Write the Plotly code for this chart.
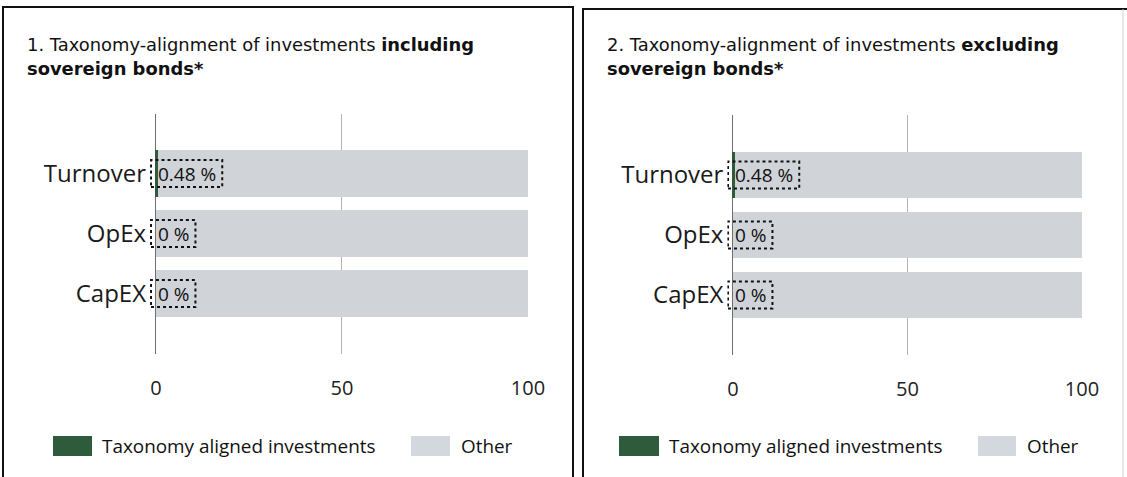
import plotly.graph_objects as go

# ---------------- data ----------------
categories = ["Turnover", "OpEx", "CapEX"]
aligned_incl = [0.48, 0, 0]
other_incl = [99.52, 100, 100]
aligned_excl = [0.48, 0, 0]
other_excl = [99.52, 100, 100]
x_ticks = [0, 50, 100]
legend_names = ["Taxonomy aligned investments", "Other"]
title_regular = ["1. Taxonomy-alignment of investments ", "2. Taxonomy-alignment of investments "]
title_bold = ["including", "excluding"]
title_line2 = ["sovereign bonds*", "sovereign bonds*"]

# ---------------- style ----------------
W, H = 1127, 477
GREEN = "#2e5b3b"
GREY = "#d0d3d8"
LEG_GREY = "#d3d8df"
FONT = "Open Sans"
TITLE_FONT = "DejaVu Sans"
XMIN = -1.6  # small room left of zero so the dotted label boxes are not clipped


def px(x):
    return x / W


def py(y):
    return 1 - y / H


panels = [
    dict(aligned=aligned_incl, other=other_incl, x0=156, x100=528, ytop=113.5, ybot=353.5,
         box=(3, 573, 7), title_x=27, leg=(53, 92, 100, 411, 450, 459)),
    dict(aligned=aligned_excl, other=other_excl, x0=733, x100=1082, ytop=115, ybot=355,
         box=(583, 1140, 9), title_x=607, leg=(619, 659, 667, 978, 1016, 1025)),
]

fig = go.Figure()
layout = dict(
    template="none",
    width=W, height=H, autosize=False, margin=dict(l=0, r=0, t=0, b=0, pad=0, autoexpand=False),
    paper_bgcolor="white", plot_bgcolor="rgba(0,0,0,0)",
    barmode="stack", showlegend=False, font=dict(family=FONT, color="#1a1a1a"),
)
shapes = []
annotations = []

char_em = {"0": 0.572, "1": 0.572, "2": 0.572, "3": 0.572, "4": 0.572, "5": 0.572,
           "6": 0.572, "7": 0.572, "8": 0.572, "9": 0.572, ".": 0.267, " ": 0.26, "%": 0.823}
LABEL_SIZE = 19

for i, p in enumerate(panels):
    sfx = "" if i == 0 else str(i + 1)
    xa, ya = "x" + sfx, "y" + sfx
    fig.add_trace(go.Bar(x=p["aligned"], y=categories, orientation="h", name=legend_names[0],
                         marker=dict(color=GREEN, line=dict(width=0)), width=0.78,
                         xaxis=xa, yaxis=ya, hoverinfo="skip"))
    fig.add_trace(go.Bar(x=p["other"], y=categories, orientation="h", name=legend_names[1],
                         marker=dict(color=GREY, line=dict(width=0)), width=0.78,
                         xaxis=xa, yaxis=ya, hoverinfo="skip"))
    ppu = (p["x100"] - p["x0"]) / 100.0
    layout["xaxis" + sfx] = dict(
        domain=[px(p["x0"] + XMIN * ppu), px(p["x100"])], range=[XMIN, 100], anchor=ya,
        tickvals=x_ticks, showgrid=True, gridcolor="#b4b4b4", gridwidth=1,
        zeroline=True, zerolinecolor="#6e6e6e", zerolinewidth=1, showline=False,
        ticks="", tickfont=dict(size=20, color="#222"), ticklabelstandoff=20,
        automargin=False, fixedrange=True,
    )
    layout["yaxis" + sfx] = dict(
        domain=[py(p["ybot"]), py(p["ytop"])], type="category",
        categoryorder="array", categoryarray=categories, range=[3, -1],
        anchor=xa, showgrid=False, zeroline=False, showline=False, ticks="",
        tickfont=dict(size=24, color="#1a1a1a"), ticklabelstandoff=3,
        automargin=False, fixedrange=True,
    )
    # value labels with dotted boxes
    for cat, v in zip(categories, p["aligned"]):
        txt = f"{v:g} %"
        tw = sum(char_em.get(c, 0.6) for c in txt) * LABEL_SIZE
        shapes.append(dict(type="rect", xref=xa, yref=ya, xsizemode="pixel", ysizemode="pixel",
                           xanchor=0, yanchor=cat, x0=-5, x1=tw + 8, y0=-13.5, y1=13.5,
                           line=dict(color="#111", width=2, dash="dot"), layer="above"))
        annotations.append(dict(xref=xa, yref=ya, x=0, y=cat, text=txt, showarrow=False,
                                xanchor="left", yanchor="middle", xshift=0,
                                font=dict(family=FONT, size=LABEL_SIZE, color="#111")))
    # panel border
    bx0, bx1, by = p["box"]
    shapes.append(dict(type="rect", xref="paper", yref="paper", x0=px(bx0), x1=px(bx1),
                       y0=py(H + 20), y1=py(by), line=dict(color="#111", width=2),
                       fillcolor="rgba(0,0,0,0)", layer="below"))
    # title
    annotations.append(dict(xref="paper", yref="paper", x=px(p["title_x"]), y=py(45),
                            xanchor="left", yanchor="middle", showarrow=False, xshift=-2,
                            text=title_regular[i] + "<b>" + title_bold[i] + "</b>",
                            font=dict(family=TITLE_FONT, size=17.9, color="#111")))
    annotations.append(dict(xref="paper", yref="paper", x=px(p["title_x"]), y=py(69),
                            xanchor="left", yanchor="middle", showarrow=False, xshift=-2,
                            text="<b>" + title_line2[i] + "</b>",
                            font=dict(family=TITLE_FONT, size=17.9, color="#111")))
    # legend (drawn as swatches + text)
    g0, g1, gt, o0, o1, ot = p["leg"]
    shapes.append(dict(type="rect", xref="paper", yref="paper", x0=px(g0), x1=px(g1),
                       y0=py(456), y1=py(436), fillcolor=GREEN, line=dict(width=0)))
    shapes.append(dict(type="rect", xref="paper", yref="paper", x0=px(o0), x1=px(o1),
                       y0=py(456), y1=py(436), fillcolor=LEG_GREY, line=dict(width=0)))
    annotations.append(dict(xref="paper", yref="paper", x=px(gt), y=py(446), xanchor="left",
                            yanchor="middle", showarrow=False, text=legend_names[0],
                            font=dict(family=FONT, size=18.9, color="#111")))
    annotations.append(dict(xref="paper", yref="paper", x=px(ot), y=py(446), xanchor="left",
                            yanchor="middle", showarrow=False, text=legend_names[1],
                            font=dict(family=FONT, size=18.9, color="#111")))

# faint right edge of second panel
shapes.append(dict(type="line", xref="paper", yref="paper", x0=px(1123), x1=px(1123),
                   y0=0, y1=py(9), line=dict(color="#cfcfcf", width=1)))

layout["shapes"] = shapes
layout["annotations"] = annotations
fig.update_layout(**layout)
fig.write_html("out.html", config={"displayModeBar": False},
               post_script="document.body.style.margin='0';document.body.style.overflow='hidden';")
